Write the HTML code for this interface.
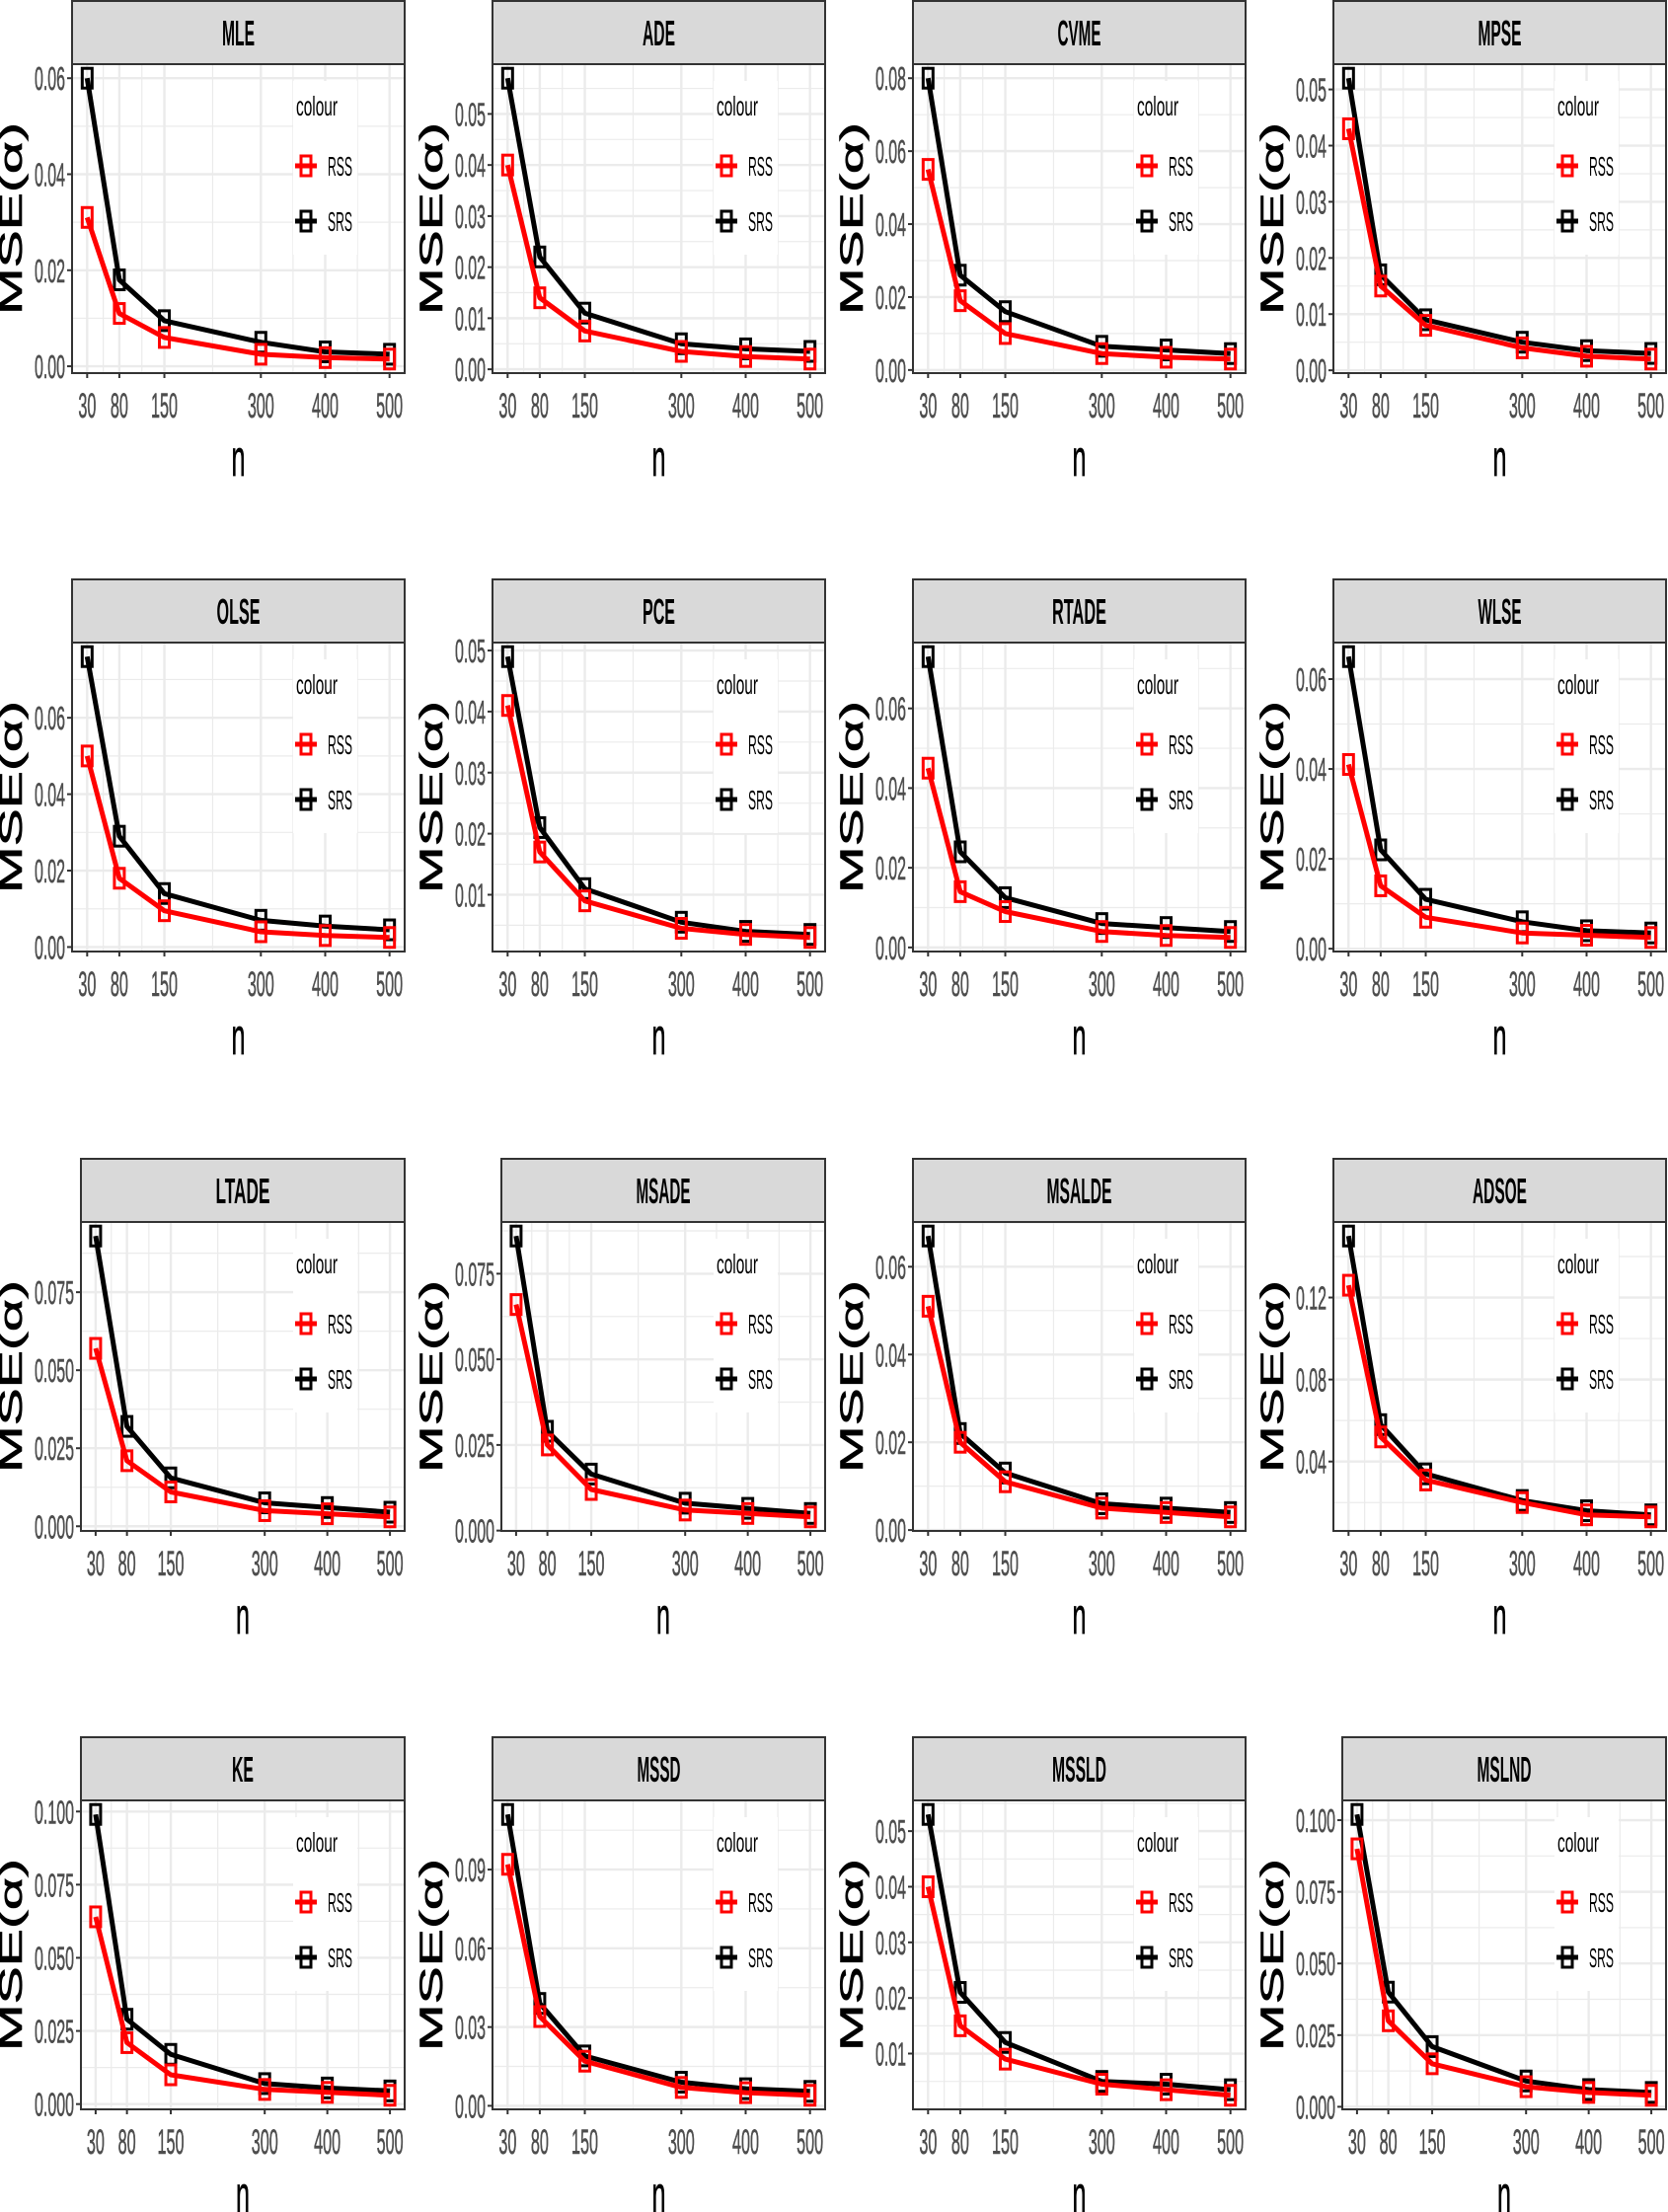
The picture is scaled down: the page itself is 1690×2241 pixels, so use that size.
<!DOCTYPE html>
<html><head><meta charset="utf-8"><style>
html,body{margin:0;padding:0;background:#fff;}
svg{display:block;}
text{font-family:"Liberation Sans",sans-serif;}
</style></head><body>
<svg id="s" xmlns="http://www.w3.org/2000/svg" width="1690" height="2241" viewBox="0 0 1690 2241"></svg>
<script>
var P=[
["MLE",[.031,.011,.006,.0025,.0018,.0015],[.060,.018,.0095,.005,.003,.0025],[0,.02,.04,.06],2,4],
["ADE",[.040,.014,.0075,.0035,.0025,.002],[.057,.022,.011,.005,.004,.0035],[0,.01,.02,.03,.04,.05],2,4],
["CVME",[.055,.019,.010,.0045,.0035,.003],[.080,.026,.016,.0065,.0055,.0045],[0,.02,.04,.06,.08],2,4],
["MPSE",[.043,.015,.008,.004,.0025,.002],[.052,.017,.009,.005,.0035,.003],[0,.01,.02,.03,.04,.05],2,4],
["OLSE",[.050,.018,.0095,.004,.003,.0025],[.076,.029,.014,.007,.0055,.0045],[0,.02,.04,.06],2,4],
["PCE",[.041,.017,.009,.0045,.0035,.003],[.049,.021,.011,.0055,.004,.0035],[.01,.02,.03,.04,.05],2,4],
["RTADE",[.045,.014,.009,.004,.003,.0025],[.073,.024,.0125,.006,.005,.004],[0,.02,.04,.06],2,4],
["WLSE",[.041,.014,.007,.0035,.003,.0025],[.065,.022,.011,.006,.004,.0035],[0,.02,.04,.06],2,4],
["LTADE",[.057,.021,.011,.005,.004,.003],[.093,.032,.0155,.0075,.006,.0045],[0,.025,.05,.075],3,5],
["MSADE",[.066,.025,.012,.006,.005,.004],[.086,.029,.0165,.008,.0065,.005],[0,.025,.05,.075],3,5],
["MSALDE",[.051,.020,.011,.005,.004,.003],[.067,.022,.013,.006,.005,.004],[0,.02,.04,.06],2,4],
["ADSOE",[.126,.052,.031,.020,.014,.013],[.150,.058,.034,.021,.016,.014],[.04,.08,.12],2,4],
["KE",[.064,.021,.010,.005,.004,.003],[.099,.029,.017,.007,.0055,.0045],[0,.025,.05,.075,.1],3,5],
["MSSD",[.092,.034,.017,.007,.005,.004],[.111,.039,.019,.009,.0065,.0055],[0,.03,.06,.09],2,4],
["MSSLD",[.040,.015,.009,.0045,.0035,.0025],[.053,.021,.012,.005,.0045,.0035],[.01,.02,.03,.04,.05],2,4],
["MSLND",[.090,.030,.015,.007,.005,.004],[.102,.040,.021,.009,.006,.005],[0,.025,.05,.075,.1],3,5]
];
var rights=[410,836,1262,1688],tops=[0,586,1173,1759];
var N=[30,80,150,300,400,500],MIN=[55,115,225,350,450];
var o='';
function tl(s){var w=0;for(var i=0;i<s.length;i++)w+=(s[i]=='.'?4:9);return w;}
P.forEach(function(p,k){
 var r=Math.floor(k/4),c=k%4;
 var R=rights[c],T=tops[r],dec=p[4],lab=p[3].map(function(v){return v.toFixed(dec);});
 var mw=0;lab.forEach(function(s){mw=Math.max(mw,tl(s));});
 var L=R-337+(mw>31?9:0);
 var W=R-L,pt=T+65,pb=T+378,H=313;
 var all=p[1].concat(p[2]),lo=Math.min.apply(0,all),hi=Math.max.apply(0,all),pad=.05*(hi-lo);
 lo-=pad;hi+=pad;
 function X(n){return L+(n-6.5)/517*W;}
 function Y(v){return pt+(hi-v)/(hi-lo)*H;}
 var step=p[3][1]-p[3][0];
 for(var v=p[3][0]-step/2;v<hi;v+=step){if(v>lo)o+='<line x1="'+L+'" x2="'+R+'" y1="'+Y(v)+'" y2="'+Y(v)+'" stroke="#ebebeb" stroke-width="1.2"/>';}
 MIN.forEach(function(n){o+='<line x1="'+X(n)+'" x2="'+X(n)+'" y1="'+pt+'" y2="'+pb+'" stroke="#ebebeb" stroke-width="1.2"/>';});
 p[3].forEach(function(v){o+='<line x1="'+L+'" x2="'+R+'" y1="'+Y(v)+'" y2="'+Y(v)+'" stroke="#ebebeb" stroke-width="2.4"/>';});
 N.forEach(function(n){o+='<line x1="'+X(n)+'" x2="'+X(n)+'" y1="'+pt+'" y2="'+pb+'" stroke="#ebebeb" stroke-width="2.4"/>';});
 o+='<rect x="'+(R-113)+'" y="'+(pt+17)+'" width="65" height="176" fill="#fff"/>';
 [[p[2],'#000'],[p[1],'#ff0000']].forEach(function(s){
  var d='';s[0].forEach(function(v,i){d+=(i?'L':'M')+X(N[i]).toFixed(1)+' '+Y(v).toFixed(1);});
  o+='<path d="'+d+'" fill="none" stroke="'+s[1]+'" stroke-width="5" stroke-linejoin="round"/>';
  s[0].forEach(function(v,i){o+='<rect x="'+(X(N[i])-5)+'" y="'+(Y(v)-10)+'" width="10" height="20" fill="none" stroke="'+s[1]+'" stroke-width="3"/>';});
 });
 o+='<rect x="'+L+'" y="'+pt+'" width="'+W+'" height="'+H+'" fill="none" stroke="#333" stroke-width="2"/>';
 o+='<rect x="'+L+'" y="'+(T+1)+'" width="'+W+'" height="64" fill="#d9d9d9" stroke="#333" stroke-width="2"/>';
 o+='<text x="'+(L+W/2)+'" y="'+(T+46)+'" text-anchor="middle" font-size="36" font-weight="bold" textLength="'+(p[0].length*11)+'" lengthAdjust="spacingAndGlyphs">'+p[0]+'</text>';
 p[3].forEach(function(v,i){var y=Y(v);
  o+='<line x1="'+(L-5)+'" x2="'+L+'" y1="'+y+'" y2="'+y+'" stroke="#333" stroke-width="2"/>';
  o+='<text x="'+(L-7)+'" y="'+(y+12)+'" text-anchor="end" font-size="33" fill="#4d4d4d" stroke="#4d4d4d" stroke-width="0.6" textLength="'+tl(lab[i])+'" lengthAdjust="spacingAndGlyphs">'+lab[i]+'</text>';});
 N.forEach(function(n){var x=X(n);
  o+='<line x1="'+x+'" x2="'+x+'" y1="'+pb+'" y2="'+(pb+5)+'" stroke="#333" stroke-width="2"/>';
  o+='<text x="'+x+'" y="'+(pb+45)+'" text-anchor="middle" font-size="35" fill="#4d4d4d" stroke="#4d4d4d" stroke-width="0.6" textLength="'+(String(n).length*9)+'" lengthAdjust="spacingAndGlyphs">'+n+'</text>';});
 o+='<text x="'+(L+W/2)+'" y="'+(pb+104)+'" text-anchor="middle" font-size="52" stroke="#000" stroke-width="0.8" textLength="14" lengthAdjust="spacingAndGlyphs">n</text>';
 var cy=(pt+pb)/2,ax=R-337-51;
 o+='<text transform="translate('+ax+','+cy+') rotate(-90)" x="0" y="0" text-anchor="middle" font-size="32" stroke="#000" stroke-width="0.6" textLength="195" lengthAdjust="spacingAndGlyphs">MSE(α)</text>';
 o+='<text x="'+(R-110)+'" y="'+(pt+52)+'" font-size="28" textLength="42" lengthAdjust="spacingAndGlyphs">colour</text>';
 [['RSS','#ff0000',103],['SRS','#000',159]].forEach(function(g){var y=pt+g[2],x=R-100;
  o+='<line x1="'+(x-11)+'" x2="'+(x+11)+'" y1="'+y+'" y2="'+y+'" stroke="'+g[1]+'" stroke-width="5"/>';
  o+='<rect x="'+(x-5)+'" y="'+(y-10)+'" width="10" height="20" fill="none" stroke="'+g[1]+'" stroke-width="3"/>';
  o+='<text x="'+(R-78)+'" y="'+(y+10)+'" font-size="28" textLength="25" lengthAdjust="spacingAndGlyphs">'+g[0]+'</text>';});
});
document.getElementById('s').innerHTML=o;
</script>
</body></html>
